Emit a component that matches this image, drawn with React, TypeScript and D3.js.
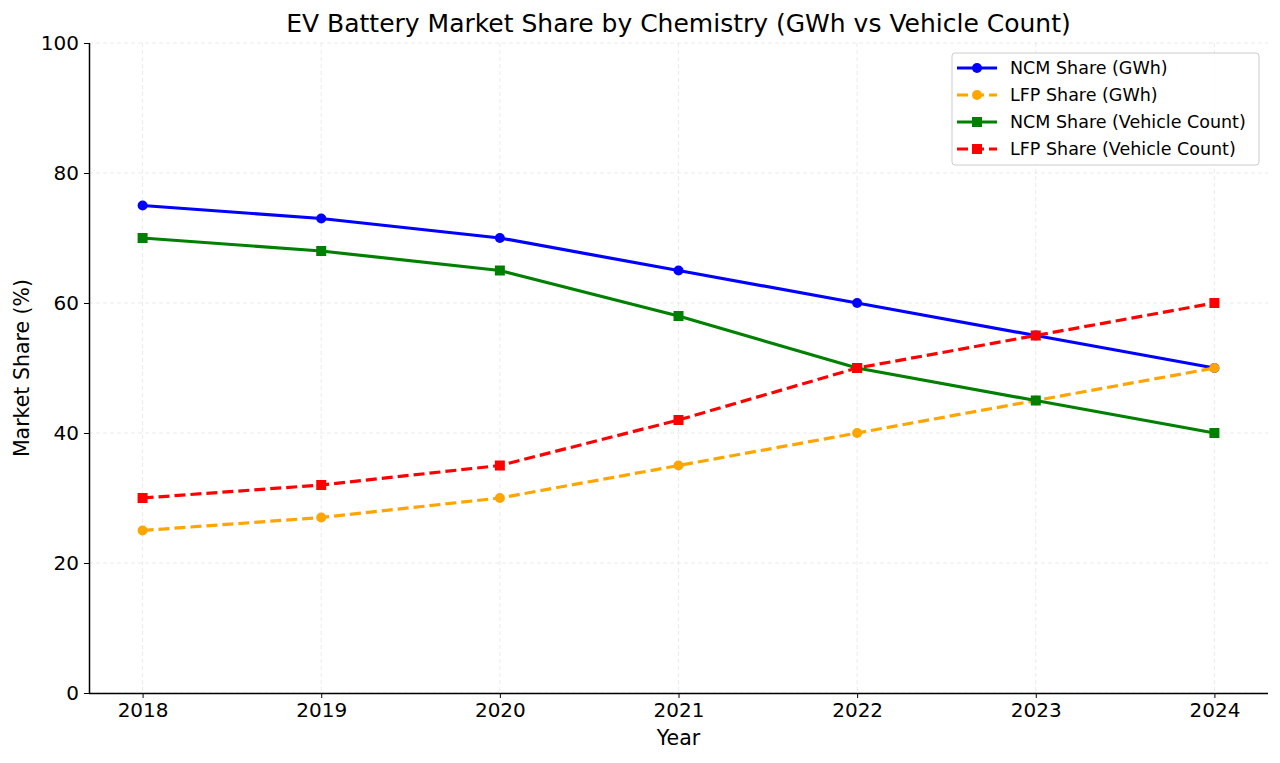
import { useEffect, useRef } from 'react';
import * as d3 from 'd3';

const years = [2018, 2019, 2020, 2021, 2022, 2023, 2024];
const ncmGwh = [75, 73, 70, 65, 60, 55, 50];
const lfpGwh = [25, 27, 30, 35, 40, 45, 50];
const ncmVehicle = [70, 68, 65, 58, 50, 45, 40];
const lfpVehicle = [30, 32, 35, 42, 50, 55, 60];
const yTicks = [0, 20, 40, 60, 80, 100];

const series = [
  { name: 'NCM Share (GWh)', values: ncmGwh, color: '#0000ff', dashed: false, marker: 'circle' },
  { name: 'LFP Share (GWh)', values: lfpGwh, color: '#ffa500', dashed: true, marker: 'circle' },
  { name: 'NCM Share (Vehicle Count)', values: ncmVehicle, color: '#008000', dashed: false, marker: 'square' },
  { name: 'LFP Share (Vehicle Count)', values: lfpVehicle, color: '#ff0000', dashed: true, marker: 'square' },
];

const W = 1280;
const H = 763;
const FONT = 'DejaVu Sans, sans-serif';

function Chart() {
  const svgRef = useRef<SVGSVGElement>(null);

  useEffect(() => {
    if (!svgRef.current) return;
    const svg = d3.select(svgRef.current);
    svg.selectAll('*').remove();

    const left = 89;
    const right = 1268;
    const top = 43;
    const bottom = 693;

    const x = d3.scaleLinear().domain([2017.7, 2024.3]).range([left, right]);
    const y = d3.scaleLinear().domain([0, 100]).range([bottom, top]);

    // Grid
    const grid = svg.append('g');
    years.forEach((yr) => {
      grid.append('line')
        .attr('x1', x(yr)).attr('x2', x(yr))
        .attr('y1', top).attr('y2', bottom)
        .attr('stroke', '#e6e6e6').attr('stroke-width', 0.8)
        .attr('stroke-dasharray', '4,3');
    });
    yTicks.forEach((t) => {
      grid.append('line')
        .attr('x1', left).attr('x2', right)
        .attr('y1', y(t)).attr('y2', y(t))
        .attr('stroke', '#e6e6e6').attr('stroke-width', 0.8)
        .attr('stroke-dasharray', '4,3');
    });

    // Axes
    const xAxis = d3.axisBottom(x).tickValues(years).tickFormat(d3.format('d')).tickSize(5).tickPadding(5);
    const gx = svg.append('g').attr('transform', `translate(0,${bottom})`).call(xAxis);
    gx.select('.domain').attr('d', `M${left},0.5H${right}`).attr('stroke-width', 1.5);
    gx.selectAll('text').attr('font-size', 20).attr('font-family', FONT).attr('fill', '#000');

    const yAxis = d3.axisLeft(y).tickValues(yTicks).tickSize(5).tickPadding(5);
    const gy = svg.append('g').attr('transform', `translate(${left},0)`).call(yAxis);
    gy.select('.domain').attr('d', `M0.5,${top}V${bottom}`).attr('stroke-width', 1.5);
    gy.selectAll('text').attr('font-size', 20).attr('font-family', FONT).attr('fill', '#000');

    // Lines
    series.forEach((s) => {
      const line = d3.line<number>().x((_, i) => x(years[i])).y((d) => y(d));
      svg.append('path')
        .datum(s.values)
        .attr('d', line)
        .attr('fill', 'none')
        .attr('stroke', s.color)
        .attr('stroke-width', 3.2)
        .attr('stroke-dasharray', s.dashed ? '11,5' : null);
      s.values.forEach((v, i) => {
        if (s.marker === 'circle') {
          svg.append('circle').attr('cx', x(years[i])).attr('cy', y(v)).attr('r', 5).attr('fill', s.color);
        } else {
          svg.append('rect').attr('x', x(years[i]) - 5).attr('y', y(v) - 5)
            .attr('width', 10).attr('height', 10).attr('fill', s.color);
        }
      });
    });

    // Title & labels
    svg.append('text').attr('x', (left + right) / 2).attr('y', 32)
      .attr('text-anchor', 'middle').attr('font-size', 25).attr('font-family', FONT)
      .text('EV Battery Market Share by Chemistry (GWh vs Vehicle Count)');
    svg.append('text').attr('x', (left + right) / 2).attr('y', 745)
      .attr('text-anchor', 'middle').attr('font-size', 20.5).attr('font-family', FONT)
      .text('Year');
    svg.append('text')
      .attr('transform', `translate(29,${(top + bottom) / 2}) rotate(-90)`)
      .attr('text-anchor', 'middle').attr('font-size', 20.5).attr('font-family', FONT)
      .text('Market Share (%)');

    // Legend
    const lg = svg.append('g').attr('transform', 'translate(952,53)');
    lg.append('rect').attr('width', 307).attr('height', 112).attr('rx', 3)
      .attr('fill', 'rgba(255,255,255,0.8)').attr('stroke', '#cccccc');
    series.forEach((s, i) => {
      const cy = 15 + i * 27;
      lg.append('line').attr('x1', 5).attr('x2', 45).attr('y1', cy).attr('y2', cy)
        .attr('stroke', s.color).attr('stroke-width', 3.2)
        .attr('stroke-dasharray', s.dashed ? '11,5' : null);
      if (s.marker === 'circle') {
        lg.append('circle').attr('cx', 25).attr('cy', cy).attr('r', 5).attr('fill', s.color);
      } else {
        lg.append('rect').attr('x', 20).attr('y', cy - 5).attr('width', 10).attr('height', 10).attr('fill', s.color);
      }
      lg.append('text').attr('x', 58).attr('y', cy + 6)
        .attr('font-size', 17.5).attr('font-family', FONT).text(s.name);
    });
  }, []);

  return <svg ref={svgRef} width={W} height={H} style={{ display: 'block' }} />;
}

export default function App() {
  return (
    <div style={{ margin: -8 }}>
      <Chart />
    </div>
  );
}
